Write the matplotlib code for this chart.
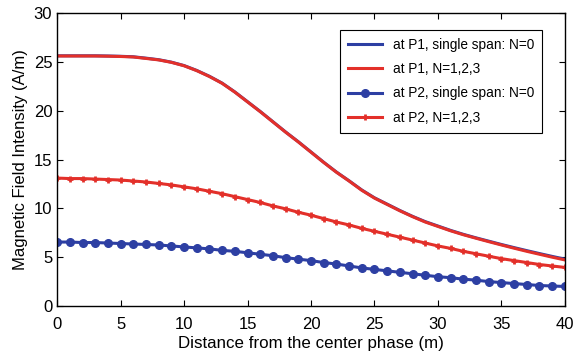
import numpy as np
import matplotlib
matplotlib.use('Agg')
import matplotlib.pyplot as plt

plt.rcParams['font.family'] = ['Liberation Sans', 'DejaVu Sans']

# distance from the center phase (m)
dist = np.arange(0, 41)

# field intensity at P1
p1_single = [25.62, 25.62, 25.62, 25.62, 25.6, 25.57, 25.52, 25.38, 25.22, 24.97,
             24.62, 24.12, 23.52, 22.82, 21.92, 20.92, 19.92, 18.87, 17.82, 16.82,
             15.77, 14.72, 13.72, 12.82, 11.88, 11.08, 10.43, 9.78, 9.18, 8.64,
             8.19, 7.74, 7.34, 6.98, 6.64, 6.3, 5.98, 5.67, 5.37, 5.08, 4.8]
p1_multi = [25.6, 25.6, 25.6, 25.6, 25.58, 25.55, 25.5, 25.35, 25.2, 24.95,
            24.6, 24.1, 23.5, 22.8, 21.9, 20.9, 19.9, 18.85, 17.8, 16.8,
            15.75, 14.7, 13.7, 12.8, 11.85, 11.05, 10.4, 9.75, 9.15, 8.6,
            8.15, 7.7, 7.3, 6.94, 6.59, 6.25, 5.92, 5.6, 5.3, 5.0, 4.72]

# field intensity at P2
p2_single = [6.55, 6.55, 6.5, 6.5, 6.45, 6.4, 6.35, 6.3, 6.25, 6.15,
             6.05, 5.95, 5.85, 5.7, 5.6, 5.45, 5.3, 5.15, 4.95, 4.8,
             4.65, 4.45, 4.3, 4.1, 3.9, 3.75, 3.6, 3.45, 3.3, 3.15,
             3.0, 2.9, 2.75, 2.65, 2.5, 2.4, 2.3, 2.2, 2.1, 2.05, 2.0]
p2_multi = [13.1, 13.05, 13.05, 13.0, 12.95, 12.9, 12.8, 12.7, 12.55, 12.4,
            12.2, 12.0, 11.75, 11.5, 11.2, 10.9, 10.6, 10.25, 9.95, 9.6,
            9.3, 8.95, 8.6, 8.3, 7.95, 7.65, 7.35, 7.05, 6.75, 6.45,
            6.15, 5.9, 5.6, 5.35, 5.1, 4.85, 4.65, 4.45, 4.25, 4.1, 3.95]

blue = '#2d3fa3'
red = '#e3302a'

fig = plt.figure(figsize=(5.77, 3.56), dpi=100)
ax = fig.add_axes([0.099, 0.1404, 0.880, 0.823])

ax.plot(dist, p1_single, color=blue, lw=2.2, label='at P1, single span: N=0')
ax.plot(dist, p1_multi, color=red, lw=2.2, label='at P1, N=1,2,3')
ax.plot(dist, p2_single, color=blue, lw=2.2, marker='o', ms=5.5,
        label='at P2, single span: N=0')
ax.plot(dist, p2_multi, color=red, lw=2.2, marker='+', ms=5, mew=2,
        label='at P2, N=1,2,3')

ax.set_xlim(0, 40)
ax.set_ylim(0, 30)
ax.set_xticks(range(0, 41, 5))
ax.set_yticks(range(0, 31, 5))
ax.tick_params(direction='in', top=True, right=True, labelsize=12, length=4)
ax.tick_params(axis='x', pad=8)
for s in ax.spines.values():
    s.set_linewidth(1.0)

ax.set_xlabel('Distance from the center phase (m)', fontsize=12.2, labelpad=3)
ax.set_ylabel('Magnetic Field Intensity (A/m)', fontsize=12, labelpad=4)

leg = ax.legend(loc='upper right', bbox_to_anchor=(0.969, 0.966), fontsize=9.8,
                fancybox=False, framealpha=1, edgecolor='black',
                handlelength=2.5, borderpad=0.6, labelspacing=0.75)
leg.get_frame().set_linewidth(0.8)

fig.savefig('out.png', dpi=100)
